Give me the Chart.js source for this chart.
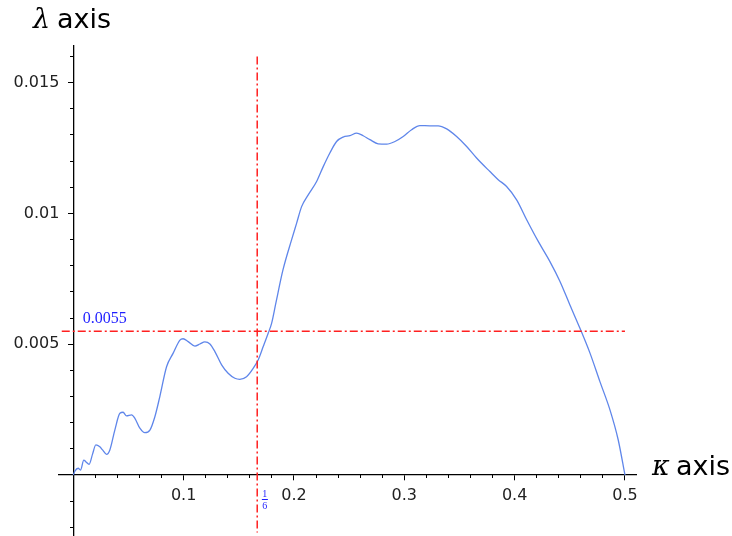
<!DOCTYPE html>
<html>
<head>
<meta charset="utf-8">
<script src="https://cdn.jsdelivr.net/npm/chart.js@4.4.1/dist/chart.umd.min.js"></script>
<style>
  html, body { margin: 0; padding: 0; background: #fff; }
  #wrap { width: 732px; height: 536px; }
</style>
</head>
<body>
<div id="wrap"><canvas id="chart"></canvas></div>
<script>
// curve
const kappa = [0, 0.0014, 0.0044, 0.0065, 0.0095, 0.0113, 0.0143, 0.0174, 0.0204, 0.024, 0.0265, 0.0301, 0.0331, 0.0376, 0.0422, 0.0451, 0.0482, 0.0528, 0.0558, 0.0603, 0.0648, 0.0694, 0.0739, 0.0784, 0.0845, 0.0905, 0.0966, 0.0995, 0.1041, 0.1102, 0.1147, 0.1192, 0.1238, 0.1283, 0.1344, 0.1403, 0.1464, 0.1509, 0.157, 0.163, 0.1675, 0.1721, 0.1766, 0.1797, 0.1836, 0.19, 0.1978, 0.2024, 0.2069, 0.2129, 0.2205, 0.2265, 0.2325, 0.2386, 0.2446, 0.2507, 0.2568, 0.2627, 0.2688, 0.2763, 0.284, 0.2915, 0.299, 0.3066, 0.3141, 0.3232, 0.3307, 0.3384, 0.3474, 0.3565, 0.3655, 0.3776, 0.3851, 0.3927, 0.4018, 0.4109, 0.4214, 0.432, 0.4411, 0.4501, 0.4592, 0.4683, 0.4773, 0.4864, 0.4939, 0.5];
const lambda = [0, 0.00015, 0.00026, 0.00019, 0.00057, 0.00051, 0.00041, 0.0008, 0.00115, 0.00108, 0.00096, 0.00079, 0.00096, 0.00172, 0.00236, 0.0024, 0.00226, 0.0023, 0.00217, 0.00179, 0.00162, 0.00172, 0.00223, 0.003, 0.00414, 0.00466, 0.00516, 0.00521, 0.0051, 0.00493, 0.00501, 0.00509, 0.00501, 0.00472, 0.00421, 0.00389, 0.0037, 0.00366, 0.00376, 0.00408, 0.0044, 0.00491, 0.00542, 0.0058, 0.00658, 0.00784, 0.00899, 0.00963, 0.01026, 0.01071, 0.01122, 0.01179, 0.01231, 0.01275, 0.01292, 0.01297, 0.01307, 0.01297, 0.01282, 0.01266, 0.01265, 0.01275, 0.01294, 0.0132, 0.01336, 0.01335, 0.01335, 0.01323, 0.01294, 0.01256, 0.01212, 0.0116, 0.01129, 0.01103, 0.01052, 0.00976, 0.00893, 0.00816, 0.0074, 0.0065, 0.00561, 0.00466, 0.00357, 0.00249, 0.00134, 0];

// reference lines
const levelLineX = [-0.0105, 0.5];
const levelLineY = [0.0055, 0.0055];
const markLineX = [1 / 6, 1 / 6];
const markLineY = [0.016, -0.0022];

// ticks
const xMajorTicks = [0.1, 0.2, 0.3, 0.4, 0.5];
const xTickLabels = ['0.1', '0.2', '0.3', '0.4', '0.5'];
const xMinorTicks = [0.02, 0.04, 0.06, 0.08, 0.12, 0.14, 0.16, 0.18, 0.22, 0.24, 0.26, 0.28, 0.32, 0.34, 0.36, 0.38, 0.42, 0.44, 0.46, 0.48];
const yMajorTicks = [0.005, 0.01, 0.015];
const yTickLabels = ['0.005', '0.01', '0.015'];
const yMinorTicks = [-0.002, -0.001, 0.001, 0.002, 0.003, 0.004, 0.006, 0.007, 0.008, 0.009, 0.011, 0.012, 0.013, 0.014, 0.016];

const X_MIN = -0.013, X_MAX = 0.51;
const Y_MIN = -0.00233, Y_MAX = 0.0164;
const Y_LABEL_AT = -0.0127; // where the y tick labels end, in kappa units

const pairs = (xs, ys) => xs.map((x, i) => ({x: x, y: ys[i]}));

// axes sit on the data origin and take no layout room
const noRoom = (axis) => {
    if (axis.isHorizontal()) axis.height = 0; else axis.width = 0;
    axis.paddingLeft = 0; axis.paddingRight = 0;
    axis.paddingTop = 0; axis.paddingBottom = 0;
};
const setTicks = (list) => (axis) => { axis.ticks = list.map(v => ({value: v})); };

const tickFont = {family: 'DejaVu Sans', size: 16};

const textPlugin = {
    id: 'texts',
    afterDraw(chart) {
        const c = chart.ctx;
        const xs = chart.scales.x, ys = chart.scales.y;
        c.save();
        c.textBaseline = 'alphabetic';
        c.textAlign = 'left';
        // axis titles
        c.fillStyle = '#000';
        c.font = 'italic 27px "DejaVu Serif"';
        c.fillText('\u03bb', 33, 28);
        c.fillText('\u03ba', 652, 475);
        c.font = '27px "DejaVu Sans"';
        c.fillText('axis', 57, 28);
        c.fillText('axis', 676, 475);
        // level label
        c.fillStyle = '#1f1fff';
        c.font = '16px "Liberation Serif"';
        c.fillText('0.0055', xs.getPixelForValue(0.0086), ys.getPixelForValue(0.0058));
        // 1/6 label
        const fx = xs.getPixelForValue(0.1736);
        c.font = '10px "Liberation Serif"';
        c.textAlign = 'center';
        c.fillText('1', fx, 497);
        c.fillText('6', fx, 508.5);
        c.fillRect(fx - 3, 499, 6, 1);
        c.restore();
    }
};

new Chart(document.getElementById('chart'), {
    type: 'scatter',
    data: {
        datasets: [
            {
                data: pairs(levelLineX, levelLineY),
                showLine: true, pointRadius: 0,
                borderColor: '#ff2020', borderWidth: 1.5,
                borderDash: [8, 3, 2, 3]
            },
            {
                data: pairs(markLineX, markLineY),
                showLine: true, pointRadius: 0,
                borderColor: '#ff2020', borderWidth: 1.5,
                borderDash: [8, 3, 2, 3]
            },
            {
                data: pairs(kappa, lambda),
                showLine: true, pointRadius: 0,
                borderColor: '#5f86ea', borderWidth: 1.3,
                cubicInterpolationMode: 'monotone'
            }
        ]
    },
    options: {
        responsive: true,
        maintainAspectRatio: false,
        animation: false,
        events: [],
        layout: {padding: {left: 59, right: 96, top: 46, bottom: 0}},
        plugins: {legend: {display: false}, tooltip: {enabled: false}},
        scales: {
            x: {
                type: 'linear', min: X_MIN, max: X_MAX,
                position: {y: 0},
                afterFit: noRoom,
                afterBuildTicks: setTicks(xMajorTicks),
                grid: {drawOnChartArea: false, drawTicks: true, tickLength: 5, color: '#000', tickWidth: 1},
                border: {display: true, color: '#000', width: 1.3},
                ticks: {
                    font: tickFont, color: '#222', padding: 6,
                    autoSkip: false, maxRotation: 0,
                    callback: (v, i) => xTickLabels[i]
                }
            },
            x2: {
                type: 'linear', min: X_MIN, max: X_MAX,
                position: {y: 0},
                afterFit: noRoom,
                afterBuildTicks: setTicks(xMinorTicks),
                grid: {drawOnChartArea: false, drawTicks: true, tickLength: 3, color: '#000', tickWidth: 1},
                border: {display: false},
                ticks: {display: false}
            },
            y: {
                type: 'linear', min: Y_MIN, max: Y_MAX,
                position: {x: 0},
                afterFit: noRoom,
                afterBuildTicks: setTicks(yMajorTicks),
                grid: {drawOnChartArea: false, drawTicks: true, tickLength: 5, color: '#000', tickWidth: 1},
                border: {display: true, color: '#000', width: 1.3},
                ticks: {display: false}
            },
            y2: {
                type: 'linear', min: Y_MIN, max: Y_MAX,
                position: {x: 0},
                afterFit: noRoom,
                afterBuildTicks: setTicks(yMinorTicks),
                grid: {drawOnChartArea: false, drawTicks: true, tickLength: 3, color: '#000', tickWidth: 1},
                border: {display: false},
                ticks: {display: false}
            },
            yLabels: {
                type: 'linear', axis: 'y', min: Y_MIN, max: Y_MAX,
                position: {x: Y_LABEL_AT},
                afterFit: noRoom,
                afterBuildTicks: setTicks(yMajorTicks),
                grid: {display: false},
                border: {display: false},
                ticks: {
                    font: tickFont, color: '#222',
                    autoSkip: false,
                    callback: (v, i) => yTickLabels[i]
                }
            }
        }
    },
    plugins: [textPlugin]
});
</script>
</body>
</html>
